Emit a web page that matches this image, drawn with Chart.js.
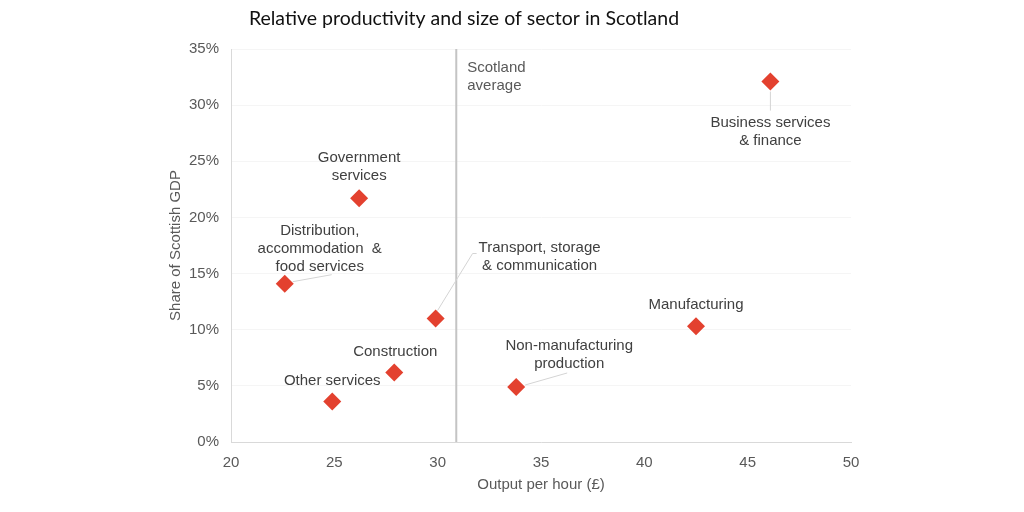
<!DOCTYPE html>
<html>
<head>
<meta charset="utf-8">
<script src="https://cdn.jsdelivr.net/npm/chart.js@4/dist/chart.umd.min.js"></script>
<style>
  html, body { margin: 0; padding: 0; background: #fff; }
  #wrap { width: 1024px; height: 512px; }
</style>
</head>
<body>
<div id="wrap"><canvas id="scatter"></canvas></div>
<script>
// sector data
const sectors = [
  ["Business services", "& finance"],
  ["Government", "services"],
  ["Distribution,", "accommodation  &", "food services"],
  ["Transport, storage", "& communication"],
  ["Manufacturing"],
  ["Construction"],
  ["Other services"],
  ["Non-manufacturing", "production"],
];
const outputPerHour = [46.1, 26.2, 22.6, 29.9, 42.5, 27.9, 24.9, 33.8];
const gdpShare = [32.1, 21.7, 14.1, 11.0, 10.3, 6.2, 3.6, 4.9];
const scotlandAverage = 30.9;
const xTicks = [20, 25, 30, 35, 40, 45, 50];
const yTicks = [0, 5, 10, 15, 20, 25, 30, 35];

// label placement (px from the point): [dx, dy of first line]
const labelOffsets = [[0, 41], [0, -40], [35, -53], [104, -71], [0, -21], [1, -21], [0, -21], [53, -41]];
// leader line ends (px from the point), null = no leader
const leaders = [[[0, 10], [0, 29]], null, [[8, -2], [47, -9]], [[2, -8], [37, -65], [41, -65]], null, null, null, [[9, -2], [51, -14]]];

const font = "'Liberation Sans', Arial, sans-serif";

const labelPlugin = {
  id: "sectorLabels",
  afterDatasetsDraw(chart) {
    const ctx = chart.ctx;
    const xs = chart.scales.x, ys = chart.scales.y;
    const area = chart.chartArea;
    ctx.save();
    // leaders
    ctx.strokeStyle = "#d4d4d4";
    ctx.lineWidth = 1;
    outputPerHour.forEach((v, i) => {
      const l = leaders[i];
      if (!l) return;
      const px = xs.getPixelForValue(v), py = ys.getPixelForValue(gdpShare[i]);
      ctx.beginPath();
      ctx.moveTo(px + l[0][0], py + l[0][1]);
      for (let k = 1; k < l.length; k++) ctx.lineTo(px + l[k][0], py + l[k][1]);
      ctx.stroke();
    });
    // labels
    ctx.font = "15px " + font;
    ctx.fillStyle = "#404040";
    ctx.textAlign = "center";
    ctx.textBaseline = "middle";
    outputPerHour.forEach((v, i) => {
      const px = xs.getPixelForValue(v), py = ys.getPixelForValue(gdpShare[i]);
      const [dx, dy] = labelOffsets[i];
      sectors[i].forEach((line, j) => ctx.fillText(line, px + dx, py + dy + j * 18));
    });
    // average note
    ctx.fillStyle = "#595959";
    ctx.textAlign = "left";
    const ax = xs.getPixelForValue(scotlandAverage);
    ctx.fillText("Scotland", ax + 11, area.top + 19);
    ctx.fillText("average", ax + 11, area.top + 37);
    // title
    ctx.font = "19.5px Lato, 'Open Sans', sans-serif";
    ctx.fillStyle = "#111";
    ctx.textAlign = "center";
    ctx.fillText("Relative productivity and size of sector in Scotland", 464, 19);
    ctx.restore();
  }
};

new Chart(document.querySelector("#scatter"), {
  type: "scatter",
  data: {
    datasets: [
      {
        type: "line",
        data: [{ x: scotlandAverage, y: yTicks[0] }, { x: scotlandAverage, y: yTicks[yTicks.length - 1] }],
        borderColor: "#c4c4c4",
        borderWidth: 2,
        pointRadius: 0,
        order: 2,
      },
      {
        data: outputPerHour.map((x, i) => ({ x: x, y: gdpShare[i] })),
        pointStyle: "rectRot",
        pointRadius: 9,
        pointHoverRadius: 9,
        backgroundColor: "#e3412f",
        borderColor: "#e3412f",
        borderWidth: 0,
        order: 1,
      },
    ],
  },
  options: {
    responsive: true,
    maintainAspectRatio: false,
    animation: false,
    layout: { padding: { left: 163, right: 173, top: 49, bottom: 18 } },
    plugins: { legend: { display: false }, tooltip: { enabled: false } },
    scales: {
      x: {
        type: "linear",
        min: xTicks[0],
        max: xTicks[xTicks.length - 1],
        afterBuildTicks: (s) => { s.ticks = xTicks.map((v) => ({ value: v })); },
        afterFit: (s) => { s.height = 52; },
        grid: { display: false, drawTicks: false },
        border: { color: "#d9d9d9", width: 1 },
        ticks: { padding: 12, color: "#595959", font: { family: font, size: 15 } },
        title: {
          display: true,
          text: "Output per hour (£)",
          color: "#595959",
          font: { family: font, size: 15 },
          padding: { top: 0, bottom: 0 },
        },
      },
      y: {
        min: yTicks[0],
        max: yTicks[yTicks.length - 1],
        afterBuildTicks: (s) => { s.ticks = yTicks.map((v) => ({ value: v })); },
        afterFit: (s) => { s.width = 68; },
        grid: { color: "#f5f5f5", drawTicks: false },
        border: { color: "#d9d9d9", width: 1 },
        ticks: {
          padding: 12,
          color: "#595959",
          font: { family: font, size: 15 },
          callback: (v) => v + "%",
        },
        title: {
          display: true,
          text: "Share of Scottish GDP",
          color: "#595959",
          font: { family: font, size: 15 },
          padding: { top: 4, bottom: 0 },
        },
      },
    },
  },
  plugins: [labelPlugin],
});
</script>
</body>
</html>
